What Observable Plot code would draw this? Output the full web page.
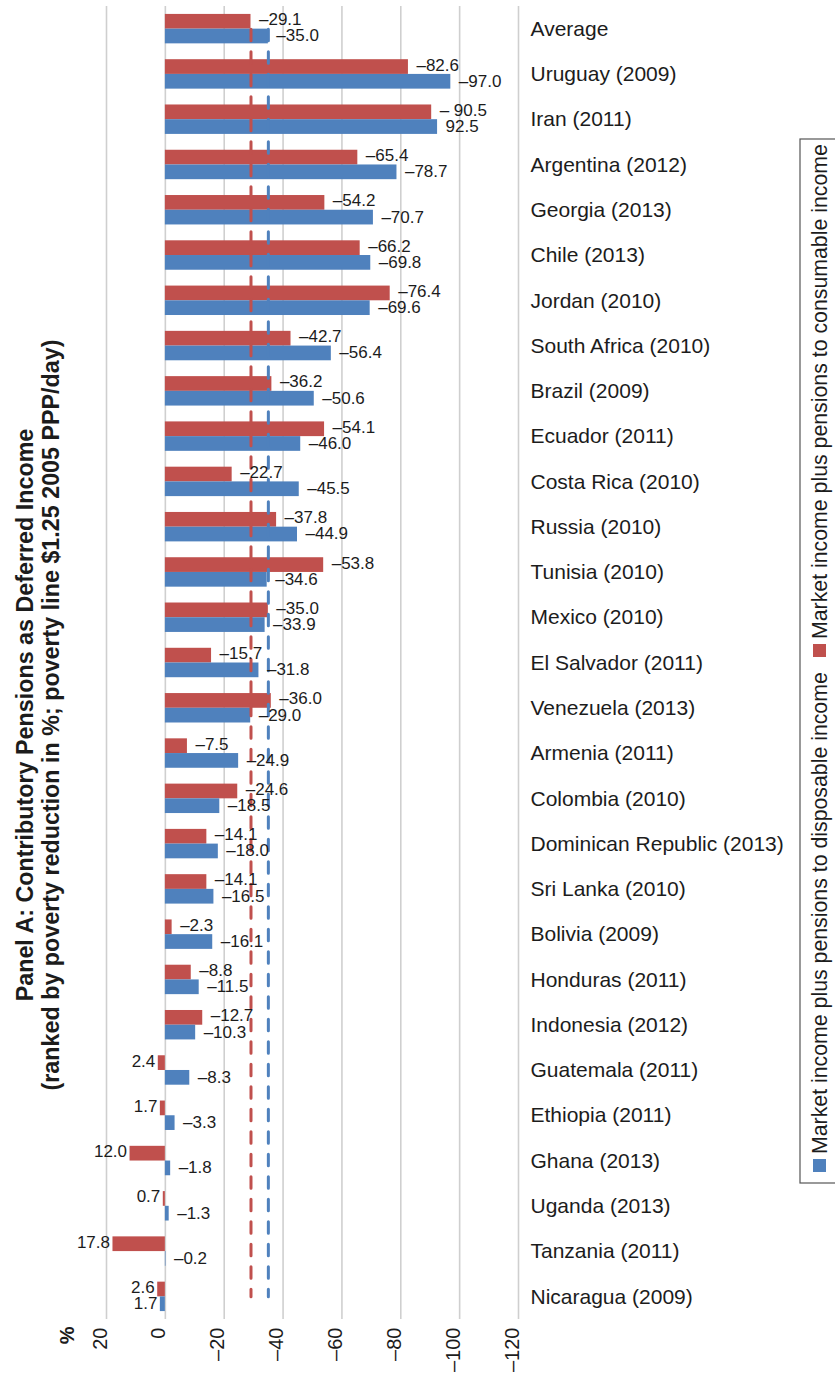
<!DOCTYPE html>
<html>
<head>
<meta charset="utf-8">
<script src="https://cdn.jsdelivr.net/npm/d3@7"></script>
<script src="https://cdn.jsdelivr.net/npm/@observablehq/plot@0.6"></script>
<style>
  html, body { margin: 0; padding: 0; background: #fff; }
  #chart { width: 835px; height: 1377px; overflow: hidden; }
</style>
</head>
<body>
<div id="chart"></div>
<script>
// ---------------- data ----------------
const countries = [
  "Average", "Uruguay (2009)", "Iran (2011)", "Argentina (2012)", "Georgia (2013)",
  "Chile (2013)", "Jordan (2010)", "South Africa (2010)", "Brazil (2009)", "Ecuador (2011)",
  "Costa Rica (2010)", "Russia (2010)", "Tunisia (2010)", "Mexico (2010)", "El Salvador (2011)",
  "Venezuela (2013)", "Armenia (2011)", "Colombia (2010)", "Dominican Republic (2013)", "Sri Lanka (2010)",
  "Bolivia (2009)", "Honduras (2011)", "Indonesia (2012)", "Guatemala (2011)", "Ethiopia (2011)",
  "Ghana (2013)", "Uganda (2013)", "Tanzania (2011)", "Nicaragua (2009)"
];
// Market income plus pensions to consumable income (red)
const consumable = [
  -29.1, -82.6, -90.5, -65.4, -54.2,
  -66.2, -76.4, -42.7, -36.2, -54.1,
  -22.7, -37.8, -53.8, -35.0, -15.7,
  -36.0, -7.5, -24.6, -14.1, -14.1,
  -2.3, -8.8, -12.7, 2.4, 1.7,
  12.0, 0.7, 17.8, 2.6
];
// Market income plus pensions to disposable income (blue)
const disposable = [
  -35.0, -97.0, -92.5, -78.7, -70.7,
  -69.8, -69.6, -56.4, -50.6, -46.0,
  -45.5, -44.9, -34.6, -33.9, -31.8,
  -29.0, -24.9, -18.5, -18.0, -16.5,
  -16.1, -11.5, -10.3, -8.3, -3.3,
  -1.8, -1.3, -0.2, 1.7
];
const consumableLabels = [
  "–29.1", "–82.6", "– 90.5", "–65.4", "–54.2",
  "–66.2", "–76.4", "–42.7", "–36.2", "–54.1",
  "–22.7", "–37.8", "–53.8", "–35.0", "–15.7",
  "–36.0", "–7.5", "–24.6", "–14.1", "–14.1",
  "–2.3", "–8.8", "–12.7", "2.4", "1.7",
  "12.0", "0.7", "17.8", "2.6"
];
const disposableLabels = [
  "–35.0", "–97.0", "92.5", "–78.7", "–70.7",
  "–69.8", "–69.6", "–56.4", "–50.6", "–46.0",
  "–45.5", "–44.9", "–34.6", "–33.9", "–31.8",
  "–29.0", "–24.9", "–18.5", "–18.0", "–16.5",
  "–16.1", "–11.5", "–10.3", "–8.3", "–3.3",
  "–1.8", "–1.3", "–0.2", "1.7"
];
const seriesNames = [
  "Market income plus pensions to consumable income",
  "Market income plus pensions to disposable income"
];
const averages = [-29.1, -35.0];
const xTicks = [20, 0, -20, -40, -60, -80, -100, -120];
const xTickLabels = ["20", "0", "–20", "–40", "–60", "–80", "–100", "–120"];
const titleLines = [
  "Panel A: Contributory Pensions as Deferred Income",
  "(ranked by poverty reduction in %; poverty line $1.25 2005 PPP/day)"
];
const axisUnit = "%";

// ---------------- layout ----------------
const RED = "#C0504D", BLUE = "#4F81BD", INK = "#1c1c1c";
const FONT = "'Liberation Sans', Arial, Helvetica, sans-serif";
const W = 835, H = 1377;
const mTop = 6, mBottom = 58, mLeft = 106, mRight = 317;
const padIn = 0.35, padOut = 0.175;
const step = (H - mTop - mBottom) / (countries.length - padIn + 2 * padOut);
const bw = step * (1 - padIn);

const redRows = countries.map((c, i) => ({country: c, value: consumable[i], label: consumableLabels[i]}));
const blueRows = countries.map((c, i) => ({country: c, value: disposable[i], label: disposableLabels[i]}));
const tickRows = xTicks.map((t, i) => ({t, label: xTickLabels[i]}));
const avgLines = (v) => [{x: v, y: countries[0]}, {x: v, y: countries[countries.length - 1]}];

const labelStyle = {fontSize: 17, fill: INK};
const redDy = -bw / 4 - 2, blueDy = bw / 4 - 0.5;

const chart = Plot.plot({
  width: W,
  height: H,
  marginTop: mTop,
  marginBottom: mBottom,
  marginLeft: mLeft,
  marginRight: mRight,
  style: {fontFamily: FONT, background: "white", overflow: "visible"},
  x: {domain: [20, -120], axis: null},
  y: {domain: countries, axis: null, paddingInner: padIn, paddingOuter: padOut, align: 0.5, round: false},
  marks: [
    // gridlines
    Plot.ruleX(tickRows, {x: "t", stroke: "#cfcfcf", strokeWidth: 1.6}),
    // bars
    Plot.barX(redRows, {y: "country", x1: 0, x2: "value", fill: RED, insetBottom: bw / 2}),
    Plot.barX(blueRows, {y: "country", x1: 0, x2: "value", fill: BLUE, insetTop: bw / 2}),
    // average dashed lines
    Plot.line(avgLines(averages[0]), {x: "x", y: "y", stroke: RED, strokeWidth: 3, strokeDasharray: "11.5,11"}),
    Plot.line(avgLines(averages[1]), {x: "x", y: "y", stroke: BLUE, strokeWidth: 3, strokeDasharray: "11.5,11"}),
    // value labels
    Plot.text(redRows.filter(d => d.value < 0), {y: "country", x: "value", text: "label", textAnchor: "start", dx: 8, dy: redDy, ...labelStyle}),
    Plot.text(redRows.filter(d => d.value >= 0), {y: "country", x: "value", text: "label", textAnchor: "end", dx: -3, dy: redDy, ...labelStyle}),
    Plot.text(blueRows.filter(d => d.value < 0), {y: "country", x: "value", text: "label", textAnchor: "start", dx: 8, dy: blueDy, ...labelStyle}),
    Plot.text(blueRows.filter(d => d.value >= 0), {y: "country", x: "value", text: "label", textAnchor: "end", dx: -3, dy: blueDy, ...labelStyle}),
    // country labels
    Plot.text(countries, {y: d => d, text: d => d, frameAnchor: "right", textAnchor: "start", dx: 12, fontSize: 21, fill: INK}),
    // x tick labels (rotated)
    Plot.text(tickRows, {x: "t", text: "label", frameAnchor: "bottom", rotate: -90, textAnchor: "end", dy: 8, fontSize: 20, fill: INK}),
    // unit label
    Plot.text([axisUnit], {text: d => d, frameAnchor: "bottom-left", rotate: -90, textAnchor: "end", dx: -32.5, dy: 7, fontSize: 20, fontWeight: "bold", fill: INK}),
    // panel title (rotated)
    Plot.text([titleLines.join("\n")], {text: d => d, frameAnchor: "left", rotate: -90, textAnchor: "middle", dx: -68.5, dy: 52, fontSize: 23.3, lineHeight: 1.08, fontWeight: "bold", fill: INK})
  ]
});

document.getElementById("chart").appendChild(chart);

// ---------------- rotated legend (right side) ----------------
const svg = d3.select(chart);
const lg = svg.append("g").attr("font-family", FONT).attr("text-anchor", "start");
lg.append("rect")
  .attr("x", 800).attr("y", 139).attr("width", 60).attr("height", 1044)
  .attr("fill", "none").attr("stroke", "#555").attr("stroke-width", 1.2);
const inner = lg.append("g").attr("transform", "translate(827,1172) rotate(-90)");
const items = [
  {name: seriesNames[1], color: BLUE, pos: 0},
  {name: seriesNames[0], color: RED, pos: 515}
];
items.forEach(it => {
  inner.append("rect").attr("x", it.pos).attr("y", -14).attr("width", 13).attr("height", 13).attr("fill", it.color);
  inner.append("text").attr("x", it.pos + 18).attr("y", 0).attr("text-anchor", "start")
    .attr("font-size", 21.3).attr("fill", INK).text(it.name);
});
</script>
</body>
</html>
